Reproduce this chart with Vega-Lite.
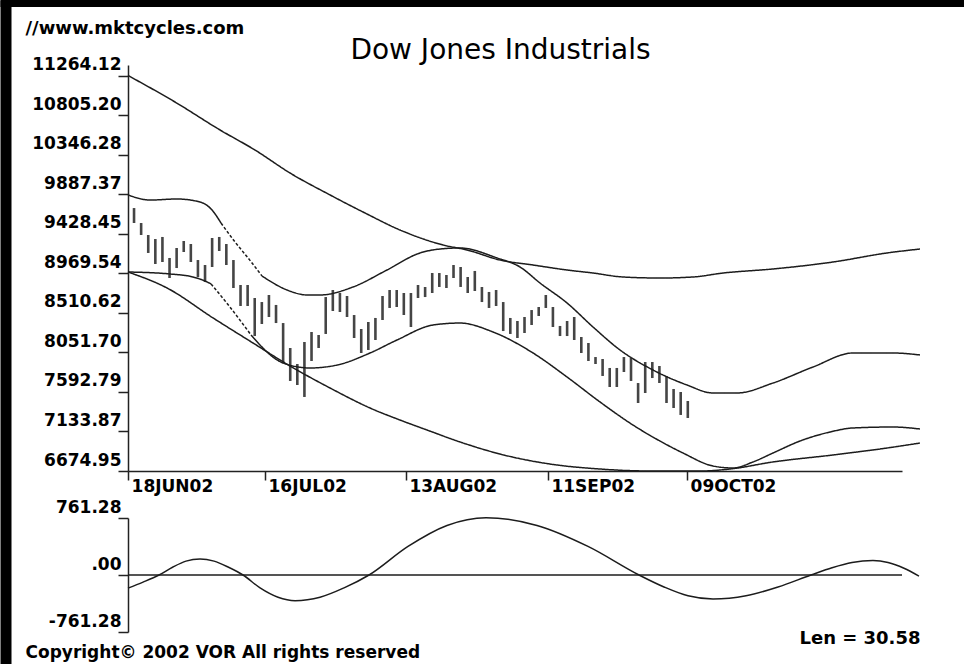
{
  "$schema": "https://vega.github.io/schema/vega-lite/v6.json",
  "autosize": {"type": "none"},
  "padding": {"left": 128, "top": 65, "right": 62, "bottom": 32},
  "width": 774,
  "height": 567,
  "background": "white",
  "config": {"view": {"stroke": null}, "axis": {"grid": false}},
  "datasets": {
    "bars": [
      {"n":1,"hi":9730,"lo":9556},{"n":2,"hi":9556,"lo":9417},{"n":3,"hi":9417,"lo":9208},{"n":4,"hi":9370,"lo":9080},
      {"n":5,"hi":9394,"lo":9103},{"n":6,"hi":9150,"lo":8917},{"n":7,"hi":9266,"lo":9033},{"n":8,"hi":9347,"lo":9219},
      {"n":9,"hi":9312,"lo":9103},{"n":10,"hi":9126,"lo":8929},{"n":11,"hi":9068,"lo":8871},{"n":12,"hi":9382,"lo":9045},
      {"n":13,"hi":9394,"lo":9231},{"n":14,"hi":9312,"lo":9068},{"n":15,"hi":9126,"lo":8801},{"n":16,"hi":8836,"lo":8592},
      {"n":17,"hi":8836,"lo":8592},{"n":18,"hi":8685,"lo":8243},{"n":19,"hi":8638,"lo":8383},{"n":20,"hi":8720,"lo":8464},
      {"n":21,"hi":8604,"lo":8394},{"n":22,"hi":8394,"lo":7930},{"n":23,"hi":8104,"lo":7721},{"n":24,"hi":7918,"lo":7674},
      {"n":25,"hi":8174,"lo":7535},{"n":26,"hi":8290,"lo":7953},{"n":27,"hi":8255,"lo":8104},{"n":28,"hi":8696,"lo":8267},
      {"n":29,"hi":8778,"lo":8534},{"n":30,"hi":8743,"lo":8522},{"n":31,"hi":8708,"lo":8464},{"n":32,"hi":8487,"lo":8220},
      {"n":33,"hi":8325,"lo":8046},{"n":34,"hi":8406,"lo":8081},{"n":35,"hi":8453,"lo":8197},{"n":36,"hi":8708,"lo":8429},
      {"n":37,"hi":8778,"lo":8569},{"n":38,"hi":8778,"lo":8580},{"n":39,"hi":8743,"lo":8487},{"n":40,"hi":8743,"lo":8348},
      {"n":41,"hi":8836,"lo":8685},{"n":42,"hi":8813,"lo":8696},{"n":43,"hi":8975,"lo":8743},{"n":44,"hi":8975,"lo":8813},
      {"n":45,"hi":8952,"lo":8801},{"n":46,"hi":9068,"lo":8917},{"n":47,"hi":9045,"lo":8813},{"n":48,"hi":8929,"lo":8743},
      {"n":49,"hi":8999,"lo":8766},{"n":50,"hi":8813,"lo":8638},{"n":51,"hi":8755,"lo":8569},{"n":52,"hi":8778,"lo":8592},
      {"n":53,"hi":8638,"lo":8301},{"n":54,"hi":8453,"lo":8267},{"n":55,"hi":8418,"lo":8220},{"n":56,"hi":8464,"lo":8278},
      {"n":57,"hi":8545,"lo":8371},{"n":58,"hi":8580,"lo":8476},{"n":59,"hi":8720,"lo":8569},{"n":60,"hi":8580,"lo":8348},
      {"n":61,"hi":8360,"lo":8243},{"n":62,"hi":8418,"lo":8243},{"n":63,"hi":8464,"lo":8197},{"n":64,"hi":8232,"lo":8046},
      {"n":65,"hi":8162,"lo":7953},{"n":66,"hi":7999,"lo":7918},{"n":67,"hi":7976,"lo":7779},{"n":68,"hi":7872,"lo":7651},
      {"n":69,"hi":7872,"lo":7651},{"n":70,"hi":7999,"lo":7825},{"n":71,"hi":7988,"lo":7721},{"n":72,"hi":7697,"lo":7465},
      {"n":73,"hi":7941,"lo":7581},{"n":74,"hi":7941,"lo":7755},{"n":75,"hi":7895,"lo":7697},{"n":76,"hi":7779,"lo":7465},
      {"n":77,"hi":7628,"lo":7407},{"n":78,"hi":7593,"lo":7326},{"n":79,"hi":7488,"lo":7291}
    ],
    "curves": [
      {"s":"A","d":"solid","n":0.15,"v":11270},{"s":"A","d":"solid","n":6.77,"v":10962},{"s":"A","d":"solid","n":13.11,"v":10637},
      {"s":"A","d":"solid","n":18.04,"v":10404},{"s":"A","d":"solid","n":22.97,"v":10137},{"s":"A","d":"solid","n":28.61,"v":9882},
      {"s":"A","d":"solid","n":33.54,"v":9672},{"s":"A","d":"solid","n":38.46,"v":9475},{"s":"A","d":"solid","n":44.52,"v":9301},
      {"s":"A","d":"solid","n":47.9,"v":9243},{"s":"A","d":"solid","n":52.55,"v":9126},{"s":"A","d":"solid","n":57.2,"v":9068},
      {"s":"A","d":"solid","n":61.99,"v":9010},{"s":"A","d":"solid","n":65.65,"v":8975},{"s":"A","d":"solid","n":69.87,"v":8929},
      {"s":"A","d":"solid","n":75.08,"v":8917},{"s":"A","d":"solid","n":79.73,"v":8929},{"s":"A","d":"solid","n":83.96,"v":8975},
      {"s":"A","d":"solid","n":91.0,"v":9022},{"s":"A","d":"solid","n":99.45,"v":9103},{"s":"A","d":"solid","n":107.06,"v":9208},
      {"s":"A","d":"solid","n":111.7,"v":9254},
      {"s":"B1","d":"solid","n":0.15,"v":9882},{"s":"B1","d":"solid","n":3.25,"v":9823},{"s":"B1","d":"solid","n":7.06,"v":9835},
      {"s":"B1","d":"solid","n":10.3,"v":9800},{"s":"B1","d":"solid","n":11.85,"v":9719},{"s":"B1","d":"solid","n":13.25,"v":9556},
      {"s":"B2","d":"dash","n":13.25,"v":9556},{"s":"B2","d":"dash","n":15.23,"v":9335},{"s":"B2","d":"dash","n":17.06,"v":9150},
      {"s":"B2","d":"dash","n":19.03,"v":8940},
      {"s":"B3","d":"solid","n":19.03,"v":8940},{"s":"B3","d":"solid","n":22.55,"v":8778},{"s":"B3","d":"solid","n":25.37,"v":8720},
      {"s":"B3","d":"solid","n":27.2,"v":8720},{"s":"B3","d":"solid","n":31.85,"v":8813},{"s":"B3","d":"solid","n":36.63,"v":9010},
      {"s":"B3","d":"solid","n":41.28,"v":9208},{"s":"B3","d":"solid","n":44.1,"v":9254},{"s":"B3","d":"solid","n":46.92,"v":9266},
      {"s":"B3","d":"solid","n":52.13,"v":9150},{"s":"B3","d":"solid","n":55.37,"v":9045},{"s":"B3","d":"solid","n":58.18,"v":8859},
      {"s":"B3","d":"solid","n":61.99,"v":8627},{"s":"B3","d":"solid","n":65.65,"v":8348},{"s":"B3","d":"solid","n":69.45,"v":8081},
      {"s":"B3","d":"solid","n":74.1,"v":7848},{"s":"B3","d":"solid","n":78.89,"v":7674},{"s":"B3","d":"solid","n":82.55,"v":7581},
      {"s":"B3","d":"solid","n":85.94,"v":7581},{"s":"B3","d":"solid","n":91.0,"v":7697},{"s":"B3","d":"solid","n":96.63,"v":7883},
      {"s":"B3","d":"solid","n":102.27,"v":8046},{"s":"B3","d":"solid","n":107.9,"v":8046},{"s":"B3","d":"solid","n":111.7,"v":8023},
      {"s":"C1","d":"solid","n":0.15,"v":8987},{"s":"C1","d":"solid","n":6.07,"v":8964},{"s":"C1","d":"solid","n":9.31,"v":8929},
      {"s":"C1","d":"solid","n":11.0,"v":8882},{"s":"C1","d":"solid","n":11.85,"v":8848},
      {"s":"C2","d":"dash","n":11.85,"v":8848},{"s":"C2","d":"dash","n":14.51,"v":8580},{"s":"C2","d":"dash","n":17.48,"v":8255},
      {"s":"C3","d":"solid","n":17.48,"v":8255},{"s":"C3","d":"solid","n":21.99,"v":7930},{"s":"C3","d":"solid","n":25.79,"v":7872},
      {"s":"C3","d":"solid","n":29.6,"v":7906},{"s":"C3","d":"solid","n":34.24,"v":8046},{"s":"C3","d":"solid","n":38.04,"v":8197},
      {"s":"C3","d":"solid","n":43.11,"v":8371},{"s":"C3","d":"solid","n":46.92,"v":8394},{"s":"C3","d":"solid","n":51.56,"v":8290},
      {"s":"C3","d":"solid","n":57.2,"v":8046},{"s":"C3","d":"solid","n":61.99,"v":7767},{"s":"C3","d":"solid","n":66.63,"v":7477},
      {"s":"C3","d":"solid","n":71.28,"v":7209},{"s":"C3","d":"solid","n":75.08,"v":7023},{"s":"C3","d":"solid","n":78.32,"v":6884},
      {"s":"C3","d":"solid","n":82.55,"v":6733},{"s":"C3","d":"solid","n":85.37,"v":6710},{"s":"C3","d":"solid","n":88.18,"v":6780},
      {"s":"C3","d":"solid","n":91.0,"v":6884},{"s":"C3","d":"solid","n":94.8,"v":7023},{"s":"C3","d":"solid","n":99.03,"v":7128},
      {"s":"C3","d":"solid","n":102.27,"v":7175},{"s":"C3","d":"solid","n":107.9,"v":7186},{"s":"C3","d":"solid","n":111.7,"v":7163},
      {"s":"D","d":"solid","n":0.15,"v":8987},{"s":"D","d":"solid","n":5.65,"v":8801},{"s":"D","d":"solid","n":12.13,"v":8453},
      {"s":"D","d":"solid","n":17.76,"v":8162},{"s":"D","d":"solid","n":22.97,"v":7895},{"s":"D","d":"solid","n":28.61,"v":7639},
      {"s":"D","d":"solid","n":34.24,"v":7407},{"s":"D","d":"solid","n":38.46,"v":7267},{"s":"D","d":"solid","n":42.27,"v":7151},
      {"s":"D","d":"solid","n":46.92,"v":7012},{"s":"D","d":"solid","n":52.55,"v":6872},{"s":"D","d":"solid","n":59.59,"v":6756},
      {"s":"D","d":"solid","n":66.63,"v":6698},{"s":"D","d":"solid","n":73.68,"v":6675},{"s":"D","d":"solid","n":80.73,"v":6675},
      {"s":"D","d":"solid","n":84.94,"v":6698},{"s":"D","d":"solid","n":91.0,"v":6780},{"s":"D","d":"solid","n":99.45,"v":6861},
      {"s":"D","d":"solid","n":107.06,"v":6942},{"s":"D","d":"solid","n":111.7,"v":7000}
    ],
    "osc": [
      {"n":0.15,"v":-175},{"n":2.27,"v":-95},{"n":4.52,"v":0},{"n":6.49,"v":107},{"n":8.32,"v":185},{"n":10.3,"v":214},
      {"n":12.27,"v":185},{"n":14.24,"v":107},{"n":16.35,"v":0},{"n":18.75,"v":-172},{"n":21.28,"v":-297},{"n":23.68,"v":-343},
      {"n":27.2,"v":-297},{"n":30.58,"v":-172},{"n":34.1,"v":0},{"n":39.59,"v":382},{"n":45.08,"v":662},{"n":50.58,"v":765},
      {"n":57.76,"v":662},{"n":64.94,"v":382},{"n":72.13,"v":0},{"n":75.65,"v":-160},{"n":79.03,"v":-278},{"n":82.55,"v":-321},
      {"n":87.2,"v":-278},{"n":91.7,"v":-160},{"n":96.35,"v":0},{"n":99.31,"v":97},{"n":102.13,"v":167},{"n":105.08,"v":193},
      {"n":107.2,"v":167},{"n":109.45,"v":90},{"n":111.56,"v":-15}
    ]
  },
  "layer": [
    {
      "layer": [
        {
          "layer": [
            {
              "data": {"name": "bars"},
              "mark": {"type": "rule", "color": "#454545", "strokeWidth": 2.6},
              "encoding": {
                "x": {"field": "n", "type": "quantitative",
                  "scale": {"domain": [0.15, 109.17], "nice": false, "zero": false},
                  "axis": {"orient": "bottom", "offset": -161, "values": [0.16, 19.45, 39.3, 59.3, 78.9],
                    "labelExpr": "['18JUN02','16JUL02','13AUG02','11SEP02','09OCT02'][round(datum.value/20)]",
                    "tickSize": 9, "tickWidth": 1.5, "tickColor": "#222", "domainWidth": 1.5, "domainColor": "#222",
                    "labelAlign": "left", "labelBaseline": "top", "labelPadding": -2, "labelOffset": 3,
                    "labelFont": "DejaVu Sans", "labelFontWeight": "bold", "labelFontSize": 17, "labelColor": "black",
                    "labelFlush": false, "labelOverlap": false, "labelBound": false, "grid": false,
                    "title": "Len = 30.58", "titleX": 792, "titleY": 172, "titleAlign": "right", "titleBaseline": "alphabetic",
                    "titleFont": "DejaVu Sans", "titleFontSize": 18, "titleFontWeight": "bold", "titleColor": "black", "titleAngle": 0}},
                "y": {"field": "hi", "type": "quantitative",
                  "scale": {"domain": [6674.95, 11391.85], "range": [406, 0], "nice": false, "zero": false},
                  "axis": {"orient": "left", "values": [6674.95, 7133.87, 7592.79, 8051.70, 8510.62, 8969.54, 9428.45, 9887.37, 10346.28, 10805.20, 11264.12],
                    "format": ".2f", "tickSize": 10, "tickWidth": 1.5, "tickColor": "#222", "domainWidth": 1.5, "domainColor": "#222",
                    "labelBaseline": "bottom", "labelPadding": -3, "labelOffset": -2,
                    "labelFont": "DejaVu Sans", "labelFontWeight": "bold", "labelFontSize": 17, "labelColor": "black",
                    "labelFlush": false, "labelOverlap": false, "grid": false,
                    "title": "//www.mktcycles.com", "titleX": -103, "titleY": -32, "titleAngle": 0, "titleAlign": "left",
                    "titleBaseline": "alphabetic", "titleFont": "DejaVu Sans", "titleFontSize": 18, "titleFontWeight": "bold", "titleColor": "black"}},
                "y2": {"field": "lo"}
              }
            },
            {
              "data": {"name": "curves"},
              "mark": {"type": "line", "color": "#1c1c1c", "strokeWidth": 1.5, "interpolate": "monotone"},
              "encoding": {
                "x": {"field": "n", "type": "quantitative",
                  "scale": {"domain": [0.15, 109.17], "nice": false, "zero": false},
                  "axis": {"orient": "bottom", "offset": -161, "values": [0.16, 19.45, 39.3, 59.3, 78.9],
                    "labelExpr": "['18JUN02','16JUL02','13AUG02','11SEP02','09OCT02'][round(datum.value/20)]",
                    "tickSize": 9, "tickWidth": 1.5, "tickColor": "#222", "domainWidth": 1.5, "domainColor": "#222",
                    "labelAlign": "left", "labelBaseline": "top", "labelPadding": -2, "labelOffset": 3,
                    "labelFont": "DejaVu Sans", "labelFontWeight": "bold", "labelFontSize": 17, "labelColor": "black",
                    "labelFlush": false, "labelOverlap": false, "labelBound": false, "grid": false,
                    "title": "Len = 30.58", "titleX": 792, "titleY": 172, "titleAlign": "right", "titleBaseline": "alphabetic",
                    "titleFont": "DejaVu Sans", "titleFontSize": 18, "titleFontWeight": "bold", "titleColor": "black", "titleAngle": 0}},
                "y": {"field": "v", "type": "quantitative",
                  "scale": {"domain": [6674.95, 11391.85], "range": [406, 0], "nice": false, "zero": false},
                  "axis": {"orient": "left", "values": [6674.95, 7133.87, 7592.79, 8051.70, 8510.62, 8969.54, 9428.45, 9887.37, 10346.28, 10805.20, 11264.12],
                    "format": ".2f", "tickSize": 10, "tickWidth": 1.5, "tickColor": "#222", "domainWidth": 1.5, "domainColor": "#222",
                    "labelBaseline": "bottom", "labelPadding": -3, "labelOffset": -2,
                    "labelFont": "DejaVu Sans", "labelFontWeight": "bold", "labelFontSize": 17, "labelColor": "black",
                    "labelFlush": false, "labelOverlap": false, "grid": false,
                    "title": "//www.mktcycles.com", "titleX": -103, "titleY": -32, "titleAngle": 0, "titleAlign": "left",
                    "titleBaseline": "alphabetic", "titleFont": "DejaVu Sans", "titleFontSize": 18, "titleFontWeight": "bold", "titleColor": "black"}},
                "detail": {"field": "s"},
                "strokeDash": {"field": "d", "type": "nominal", "scale": {"domain": ["solid", "dash"], "range": [[1, 0], [3, 2]]}, "legend": null}
              }
            }
          ]
        },
        {
          "layer": [
            {
              "data": {"name": "osc"},
              "mark": {"type": "line", "color": "#1c1c1c", "strokeWidth": 1.5, "interpolate": "monotone"},
              "encoding": {
                "x": {"field": "n", "type": "quantitative",
                  "scale": {"domain": [0.15, 109.17], "nice": false, "zero": false},
                  "axis": {"orient": "bottom", "offset": -161, "values": [0.16, 19.45, 39.3, 59.3, 78.9],
                    "labelExpr": "['18JUN02','16JUL02','13AUG02','11SEP02','09OCT02'][round(datum.value/20)]",
                    "tickSize": 9, "tickWidth": 1.5, "tickColor": "#222", "domainWidth": 1.5, "domainColor": "#222",
                    "labelAlign": "left", "labelBaseline": "top", "labelPadding": -2, "labelOffset": 3,
                    "labelFont": "DejaVu Sans", "labelFontWeight": "bold", "labelFontSize": 17, "labelColor": "black",
                    "labelFlush": false, "labelOverlap": false, "labelBound": false, "grid": false,
                    "title": "Len = 30.58", "titleX": 792, "titleY": 172, "titleAlign": "right", "titleBaseline": "alphabetic",
                    "titleFont": "DejaVu Sans", "titleFontSize": 18, "titleFontWeight": "bold", "titleColor": "black", "titleAngle": 0}},
                "y": {"field": "v", "type": "quantitative",
                  "scale": {"domain": [-761.28, 761.28], "range": [567, 453], "nice": false, "zero": false},
                  "axis": {"orient": "left", "values": [-761.28, 0, 761.28],
                    "labelExpr": "datum.value == 0 ? '.00' : (datum.value < 0 ? '-' + format(-datum.value, '.2f') : format(datum.value, '.2f'))",
                    "tickSize": 10, "tickWidth": 1.5, "tickColor": "#222", "domainWidth": 1.5, "domainColor": "#222",
                    "labelBaseline": "bottom", "labelPadding": -3, "labelOffset": -2,
                    "labelFont": "DejaVu Sans", "labelFontWeight": "bold", "labelFontSize": 17, "labelColor": "black",
                    "labelFlush": false, "labelOverlap": false, "grid": false,
                    "title": "Copyright© 2002 VOR All rights reserved", "titleX": -103, "titleY": 592, "titleAngle": 0, "titleAlign": "left",
                    "titleBaseline": "alphabetic", "titleFont": "DejaVu Sans", "titleFontSize": 17, "titleFontWeight": "bold", "titleColor": "black"}}
              }
            },
            {
              "data": {"values": [{"zero": 0}]},
              "mark": {"type": "rule", "color": "#1c1c1c", "strokeWidth": 1.5},
              "encoding": {
                "y": {"field": "zero", "type": "quantitative",
                  "scale": {"domain": [-761.28, 761.28], "range": [567, 453], "nice": false, "zero": false},
                  "axis": {"orient": "left", "values": [-761.28, 0, 761.28],
                    "labelExpr": "datum.value == 0 ? '.00' : (datum.value < 0 ? '-' + format(-datum.value, '.2f') : format(datum.value, '.2f'))",
                    "tickSize": 10, "tickWidth": 1.5, "tickColor": "#222", "domainWidth": 1.5, "domainColor": "#222",
                    "labelBaseline": "bottom", "labelPadding": -3, "labelOffset": -2,
                    "labelFont": "DejaVu Sans", "labelFontWeight": "bold", "labelFontSize": 17, "labelColor": "black",
                    "labelFlush": false, "labelOverlap": false, "grid": false,
                    "title": "Copyright© 2002 VOR All rights reserved", "titleX": -103, "titleY": 592, "titleAngle": 0, "titleAlign": "left",
                    "titleBaseline": "alphabetic", "titleFont": "DejaVu Sans", "titleFontSize": 17, "titleFontWeight": "bold", "titleColor": "black"}}
              }
            }
          ]
        }
      ],
      "resolve": {"scale": {"y": "independent"}, "axis": {"y": "independent"}}
    },
    {
      "data": {"values": [{"fx": 0, "fy": 0}, {"fx": 1, "fy": 1}]},
      "mark": {"type": "point", "opacity": 0},
      "encoding": {
        "x": {"field": "fx", "type": "quantitative",
          "scale": {"domain": [0, 1], "range": [-128, 836], "nice": false, "zero": false},
          "axis": {"orient": "top", "offset": 62, "domainWidth": 7, "domainColor": "black", "ticks": false, "labels": false, "grid": false,
            "title": "Dow Jones Industrials", "titleX": 372, "titleY": 55, "titleAlign": "center", "titleBaseline": "alphabetic",
            "titleFont": "DejaVu Sans", "titleFontSize": 28, "titleFontWeight": "normal", "titleColor": "black", "titleAngle": 0}},
        "y": {"field": "fy", "type": "quantitative",
          "scale": {"domain": [0, 1], "range": [599, -65], "nice": false, "zero": false},
          "axis": {"orient": "left", "offset": 122.5, "domainWidth": 11, "domainColor": "black", "ticks": false, "labels": false, "grid": false, "title": null}}
      }
    }
  ],
  "resolve": {"scale": {"x": "independent", "y": "independent"}, "axis": {"x": "independent", "y": "independent"}}
}
